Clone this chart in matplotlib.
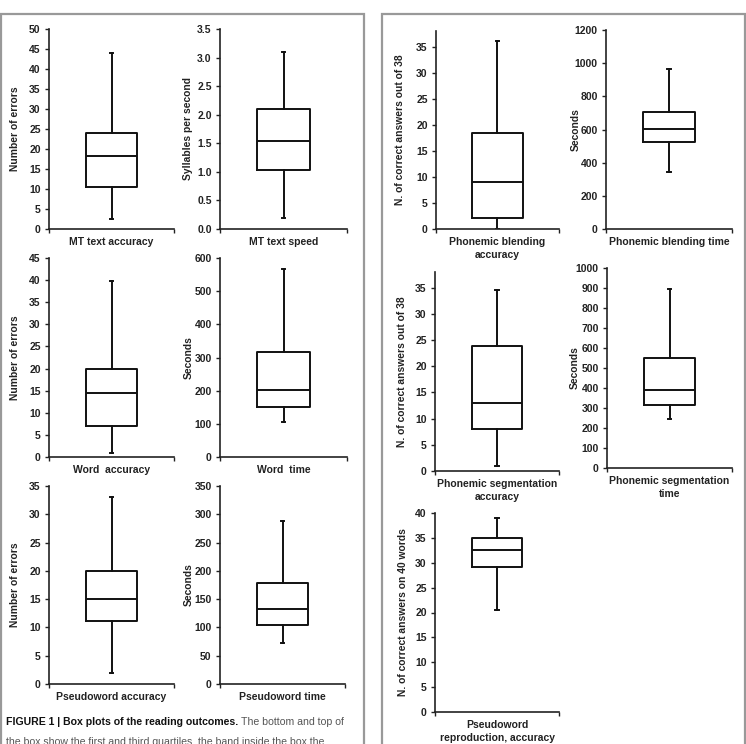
import matplotlib
matplotlib.use('Agg')
import matplotlib.pyplot as plt
from matplotlib.patches import Rectangle
from matplotlib.ticker import FormatStrFormatter

plt.rcParams['font.family'] = ['Liberation Sans', 'DejaVu Sans']

W, H = 746, 744

# box plot summaries
names = ['MT text accuracy', 'MT text speed',
         'Word  accuracy', 'Word  time',
         'Pseudoword accuracy', 'Pseudoword time',
         'Phonemic blending\naccuracy', 'Phonemic blending time',
         'Phonemic segmentation\naccuracy', 'Phonemic segmentation\ntime',
         'Pseudoword\nreproduction, accuracy']
ylabels = ['Number of errors', 'Syllables per second',
           'Number of errors', 'Seconds',
           'Number of errors', 'Seconds',
           'N. of correct answers out of 38', 'Seconds',
           'N. of correct answers out of 38', 'Seconds',
           'N. of correct answers on 40 words']
whis_low = [2.5, 0.2, 1, 105, 2, 73, 0, 343, 1, 247, 20.6]
q1 = [10.6, 1.03, 7, 152, 11.2, 104, 2.2, 527, 8, 313, 29.2]
median = [18.2, 1.54, 14.5, 203, 15, 132, 9, 605, 13, 390, 32.5]
q3 = [24, 2.1, 19.8, 318, 20, 178, 18.4, 703, 23.8, 552, 35]
whis_high = [44, 3.1, 39.8, 568, 33.1, 288, 36, 965, 34.5, 895, 39]
ymax = [50, 3.5, 45, 600, 35, 350, 38, 1200, 38, 1000, 40]
ytick_max = [50, 3.5, 45, 600, 35, 350, 35, 1200, 35, 1000, 40]
ystep = [5, 0.5, 5, 100, 5, 50, 5, 200, 5, 100, 5]

# axes frames in pixels: left, right, top, bottom
frames = [(49, 174, 29, 229), (220, 347, 29, 229),
          (49, 174, 258, 457), (220, 347, 258, 457),
          (49, 174, 486, 684), (220, 345, 486, 684),
          (436, 559, 31, 229), (606, 732, 30, 229),
          (435, 559, 272, 471), (607, 732, 268, 468),
          (435, 559, 513, 712)]
# x pixel of the centre of each y label
ylab_x = [14, 187, 14, 187, 14, 187, 399, 574, 400, 573, 401]

fig = plt.figure(figsize=(W / 100, H / 100), dpi=100)

# gray panel borders
for x0, x1 in [(1, 364), (382, 745)]:
    fig.patches.append(Rectangle((x0 / W, -0.05), (x1 - x0) / W, 1.05 - 14 / H,
                                 transform=fig.transFigure, fill=False,
                                 edgecolor='#999999', linewidth=1.6))

for i in range(len(names)):
    l, r, t, b = frames[i]
    ax = fig.add_axes([l / W, 1 - b / H, (r - l) / W, (b - t) / H])
    stats = [dict(whislo=whis_low[i], q1=q1[i], med=median[i], q3=q3[i],
                  whishi=whis_high[i], fliers=[])]
    lp = dict(color='#111111', linewidth=1.4)
    ax.bxp(stats, positions=[1.0], widths=0.41, capwidths=0.03,
           boxprops=lp, whiskerprops=lp, capprops=lp,
           medianprops=lp, manage_ticks=False)
    ax.set_xlim(0.5, 1.5)
    ax.set_ylim(0, ymax[i])
    n = int(round(ytick_max[i] / ystep[i]))
    ax.set_yticks([k * ystep[i] for k in range(n + 1)])
    if ystep[i] < 1:
        ax.yaxis.set_major_formatter(FormatStrFormatter('%.1f'))
    ax.set_xticks([0.5, 1.5])
    ax.set_xticklabels([])
    for s in ['top', 'right']:
        ax.spines[s].set_visible(False)
    for s in ['left', 'bottom']:
        ax.spines[s].set_linewidth(1.2)
        ax.spines[s].set_color('#222222')
    ax.tick_params(axis='y', length=3, width=1.0, labelsize=7.5, pad=3,
                   color='#222222', labelcolor='#222222')
    ax.tick_params(axis='x', length=3, width=1.0, color='#222222')
    for lab in ax.get_yticklabels():
        lab.set_fontweight('bold')
    ax.set_ylabel(ylabels[i], fontsize=7.4, fontweight='bold', color='#222222')
    ax.yaxis.set_label_coords((ylab_x[i] + 6.5 - l) / (r - l), 0.5)
    ax.set_xlabel(names[i], fontsize=7.5, fontweight='bold', labelpad=-1,
                  linespacing=1.4, color='#222222')

# caption
fig.canvas.draw()
renderer = fig.canvas.get_renderer()
t1 = fig.text(6 / W, 1 - 722 / H, 'FIGURE 1 | Box plots of the reading outcomes.',
              fontsize=7.6, fontweight='bold', va='center', color='#111111')
bb = t1.get_window_extent(renderer)
fig.text(bb.x1 / W + 2.5 / W, 1 - 722 / H, 'The bottom and top of',
         fontsize=7.6, va='center', color='#555555')
fig.text(6 / W, 1 - 742 / H,
         'the box show the first and third quartiles, the band inside the box the',
         fontsize=7.6, va='center', color='#555555')

fig.savefig('out.png', dpi=100)
